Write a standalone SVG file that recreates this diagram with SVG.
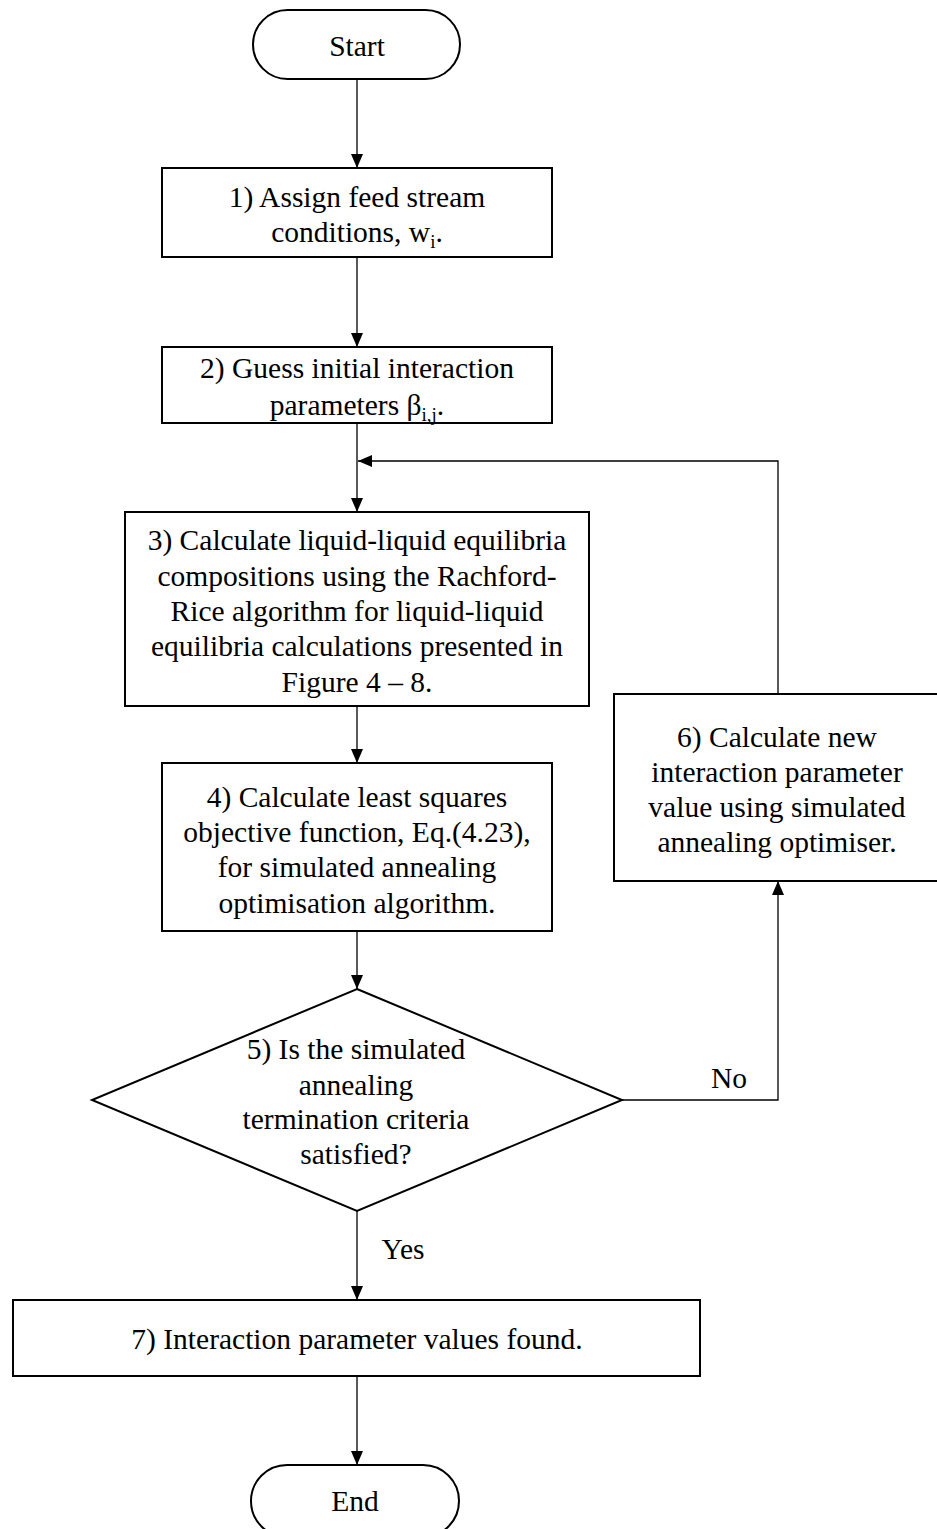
<svg xmlns="http://www.w3.org/2000/svg" width="937" height="1529" viewBox="0 0 937 1529">
<style>
.box{fill:#fff;stroke:#000;stroke-width:2}
.conn{fill:none;stroke:#000;stroke-width:1.3}
.t{font-family:'Liberation Serif','Times New Roman',serif;font-size:29.5px;fill:#000;text-anchor:middle}
.sub{font-size:19px}
</style>
<defs>
<marker id="arr" markerUnits="userSpaceOnUse" markerWidth="16" markerHeight="16" viewBox="0 0 16 16" refX="15" refY="8" orient="auto">
<path d="M1,2 L15,8 L1,14 Z" fill="#000"/>
</marker>
</defs>
<rect width="937" height="1529" fill="#fff"/>
<g id="connectors">
<line class="conn" x1="357" y1="79" x2="357" y2="168" marker-end="url(#arr)"/>
<line class="conn" x1="357" y1="257" x2="357" y2="347" marker-end="url(#arr)"/>
<line class="conn" x1="357" y1="423" x2="357" y2="512" marker-end="url(#arr)"/>
<line class="conn" x1="357" y1="706" x2="357" y2="763" marker-end="url(#arr)"/>
<line class="conn" x1="357" y1="931" x2="357" y2="989" marker-end="url(#arr)"/>
<line class="conn" x1="357" y1="1211" x2="357" y2="1300" marker-end="url(#arr)"/>
<line class="conn" x1="357" y1="1376" x2="357" y2="1465" marker-end="url(#arr)"/>
<polyline class="conn" points="622,1100 778,1100 778,881" marker-end="url(#arr)"/>
<polyline class="conn" points="778,694 778,461 358,461" marker-end="url(#arr)"/>
<text class="t" font-family="Liberation Serif" x="729" y="1088">No</text>
<text class="t" font-family="Liberation Serif" x="403" y="1259">Yes</text>
</g>
<g id="start">
<rect class="box" x="253" y="10" width="207" height="69" rx="34.5"/>
<text class="t" font-family="Liberation Serif" x="357" y="56">Start</text>
</g>
<g id="step1">
<rect class="box" x="162" y="168" width="390" height="89"/>
<text class="t" font-family="Liberation Serif" x="357" y="207">1) Assign feed stream</text>
<text class="t" font-family="Liberation Serif" x="357" y="242">conditions, w<tspan class="sub" dy="6">i</tspan><tspan dy="-6">.</tspan></text>
</g>
<g id="step2">
<rect class="box" x="162" y="347" width="390" height="76"/>
<text class="t" font-family="Liberation Serif" x="357" y="378">2) Guess initial interaction</text>
<text class="t" font-family="Liberation Serif" x="357" y="415">parameters β<tspan class="sub" dy="6">i,j</tspan><tspan dy="-6">.</tspan></text>
</g>
<g id="step3">
<rect class="box" x="125" y="512" width="464" height="194"/>
<text class="t" font-family="Liberation Serif" x="357" y="550">3) Calculate liquid-liquid equilibria</text>
<text class="t" font-family="Liberation Serif" x="357" y="586">compositions using the Rachford-</text>
<text class="t" font-family="Liberation Serif" x="357" y="621">Rice algorithm for liquid-liquid</text>
<text class="t" font-family="Liberation Serif" x="357" y="656">equilibria calculations presented in</text>
<text class="t" font-family="Liberation Serif" x="357" y="692">Figure 4 – 8.</text>
</g>
<g id="step4">
<rect class="box" x="162" y="763" width="390" height="168"/>
<text class="t" font-family="Liberation Serif" x="357" y="807">4) Calculate least squares</text>
<text class="t" font-family="Liberation Serif" x="357" y="842">objective function, Eq.(4.23),</text>
<text class="t" font-family="Liberation Serif" x="357" y="877">for simulated annealing</text>
<text class="t" font-family="Liberation Serif" x="357" y="913">optimisation algorithm.</text>
</g>
<g id="step5">
<polygon class="box" points="357,989 622,1100 357,1211 92,1100"/>
<text class="t" font-family="Liberation Serif" x="356" y="1059">5) Is the simulated</text>
<text class="t" font-family="Liberation Serif" x="356" y="1095">annealing</text>
<text class="t" font-family="Liberation Serif" x="356" y="1129">termination criteria</text>
<text class="t" font-family="Liberation Serif" x="356" y="1164">satisfied?</text>
</g>
<g id="step6">
<rect class="box" x="614" y="694" width="326" height="187"/>
<text class="t" font-family="Liberation Serif" x="777" y="747">6) Calculate new</text>
<text class="t" font-family="Liberation Serif" x="777" y="782">interaction parameter</text>
<text class="t" font-family="Liberation Serif" x="777" y="817">value using simulated</text>
<text class="t" font-family="Liberation Serif" x="777" y="852">annealing optimiser.</text>
</g>
<g id="step7">
<rect class="box" x="13" y="1300" width="687" height="76"/>
<text class="t" font-family="Liberation Serif" x="357" y="1349">7) Interaction parameter values found.</text>
</g>
<g id="end">
<rect class="box" x="251" y="1465" width="208" height="72" rx="36"/>
<text class="t" font-family="Liberation Serif" x="355" y="1511">End</text>
</g>
</svg>
